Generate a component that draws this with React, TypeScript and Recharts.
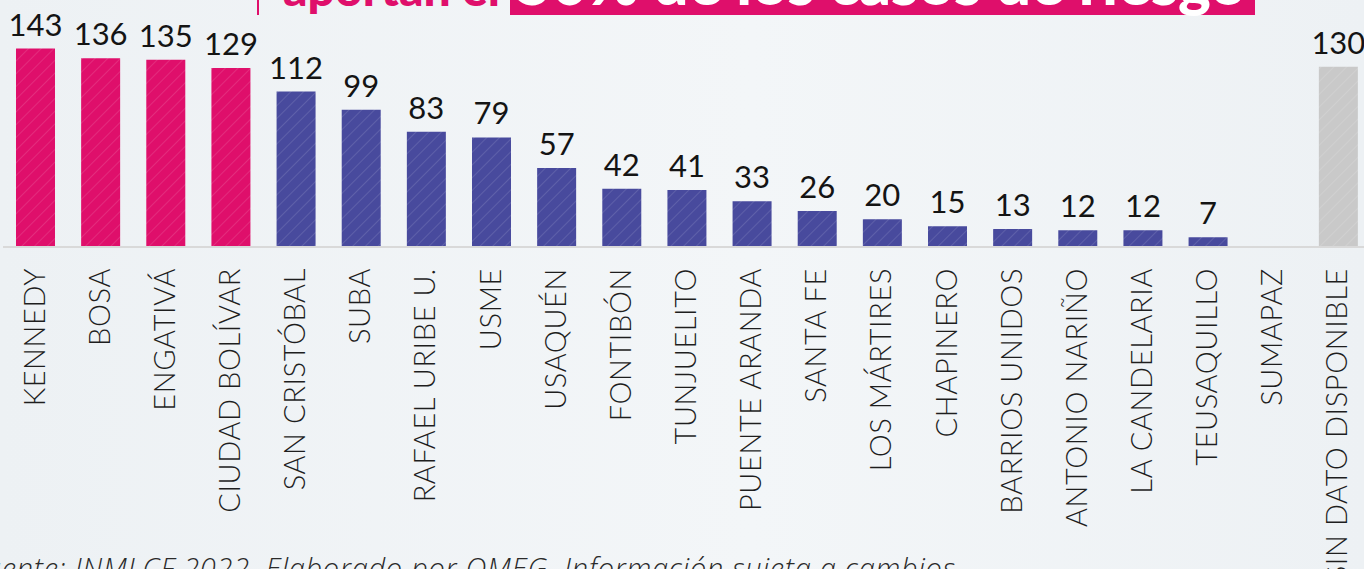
import { BarChart, Bar, XAxis, YAxis, Cell, LabelList } from "recharts";

const districts = [
  "KENNEDY",
  "BOSA",
  "ENGATIVÁ",
  "CIUDAD BOLÍVAR",
  "SAN CRISTÓBAL",
  "SUBA",
  "RAFAEL URIBE U.",
  "USME",
  "USAQUÉN",
  "FONTIBÓN",
  "TUNJUELITO",
  "PUENTE ARANDA",
  "SANTA FE",
  "LOS MÁRTIRES",
  "CHAPINERO",
  "BARRIOS UNIDOS",
  "ANTONIO NARIÑO",
  "LA CANDELARIA",
  "TEUSAQUILLO",
  "SUMAPAZ",
  "SIN DATO DISPONIBLE",
];

const cases: (number | null)[] = [
  143, 136, 135, 129, 112, 99, 83, 79, 57, 42, 41, 33, 26, 20, 15, 13, 12, 12, 7, null, 130,
];

// top = pink (the ones highlighted in the title), rest = blue, nodata = gray
const groups = [
  "top", "top", "top", "top",
  "rest", "rest", "rest", "rest", "rest", "rest", "rest", "rest", "rest", "rest",
  "rest", "rest", "rest", "rest", "rest", "rest",
  "nodata",
];

const titleLead = "aportan el";
const titleHighlight = "50% de los casos de riesgo";
const sourceNote = "Fuente: INMLCF 2022. Elaborado por OMEG. Información sujeta a cambios";

const PINK = "#df0f6b";
const BLUE = "#484a9d";
const GRAY = "#c9c9c9";

const fills: Record<string, string> = {
  top: "url(#hatch-top)",
  rest: "url(#hatch-rest)",
  nodata: "url(#hatch-nodata)",
};

const data = districts.map((name, i) => ({ name, value: cases[i], group: groups[i] }));

function DistrictTick(props: any) {
  const { x, y, payload } = props;
  return (
    <text
      transform={`translate(${x + 9},${y}) rotate(-90)`}
      textAnchor="end"
      fontFamily="Lato, sans-serif"
      fontWeight={300}
      fontSize={29}
      letterSpacing={0.6}
      fill="#1e1e1e"
    >
      {payload.value}
    </text>
  );
}

function ValueLabel(props: any) {
  const { x, y, width, value } = props;
  if (value === null || value === undefined) return null;
  return (
    <text
      x={x + width / 2}
      y={y - 13}
      textAnchor="middle"
      fontFamily="Lato, sans-serif"
      fontSize={31}
      fill="#141414"
    >
      {value}
    </text>
  );
}

function Hatch({ id, color }: { id: string; color: string }) {
  return (
    <pattern id={id} width={9} height={9} patternUnits="userSpaceOnUse" patternTransform="rotate(45)">
      <rect width={9} height={9} fill={color} />
      <line x1={0} y1={0} x2={0} y2={9} stroke="rgba(255,255,255,0.16)" strokeWidth={1.5} />
    </pattern>
  );
}

export default function App() {
  return (
    <div
      style={{
        position: "absolute",
        left: 0,
        top: 0,
        width: 1364,
        height: 569,
        overflow: "hidden",
        background: "linear-gradient(90deg, #edf1f4 0%, #f3f6f8 55%, #edf1f4 100%)",
      }}
    >
      <svg width={0} height={0} style={{ position: "absolute" }}>
        <defs>
          <Hatch id="hatch-top" color={PINK} />
          <Hatch id="hatch-rest" color={BLUE} />
          <Hatch id="hatch-nodata" color={GRAY} />
        </defs>
      </svg>

      {/* title, cut off by the top edge */}
      <svg width={1364} height={30} style={{ position: "absolute", left: 0, top: 0 }}>
        <rect x={257} y={0} width={2} height={15} fill={PINK} />
        <text x={283} y={6} fontFamily="Lato, sans-serif" fontWeight={900} fontSize={48} fill={PINK}>
          {titleLead}
        </text>
        <rect x={510} y={-60} width={745} height={75} fill={PINK} />
        <text
          x={516}
          y={5}
          fontFamily="Lato, sans-serif"
          fontWeight={900}
          fontSize={62}
          fill="#ffffff"
          textLength={730}
          lengthAdjust="spacing"
        >
          {titleHighlight}
        </text>
      </svg>

      <div style={{ position: "absolute", left: 0, top: 0 }}>
        <BarChart width={1372} height={569} data={data} margin={{ top: 25, right: 1, left: 3, bottom: 0 }}>
          <XAxis
            dataKey="name"
            interval={0}
            height={322}
            tickSize={0}
            tickMargin={21}
            tickLine={false}
            axisLine={{ stroke: "#d9d9d9", strokeWidth: 2 }}
            tick={<DistrictTick />}
          />
          <YAxis hide domain={[0, 160]} />
          <Bar dataKey="value" barSize={39} isAnimationActive={false}>
            {data.map((d, i) => (
              <Cell key={i} fill={fills[d.group]} />
            ))}
            <LabelList dataKey="value" content={<ValueLabel />} />
          </Bar>
        </BarChart>
      </div>

      {/* source note, cut off by the bottom edge */}
      <svg width={1364} height={569} style={{ position: "absolute", left: 0, top: 0, pointerEvents: "none" }}>
        <text
          x={-30}
          y={579}
          fontFamily="'Open Sans', sans-serif"
          fontStyle="italic"
          fontWeight={300}
          fontSize={29}
          fill="#2a2a2a"
          textLength={985}
          lengthAdjust="spacing"
        >
          {sourceNote}
        </text>
      </svg>
    </div>
  );
}
